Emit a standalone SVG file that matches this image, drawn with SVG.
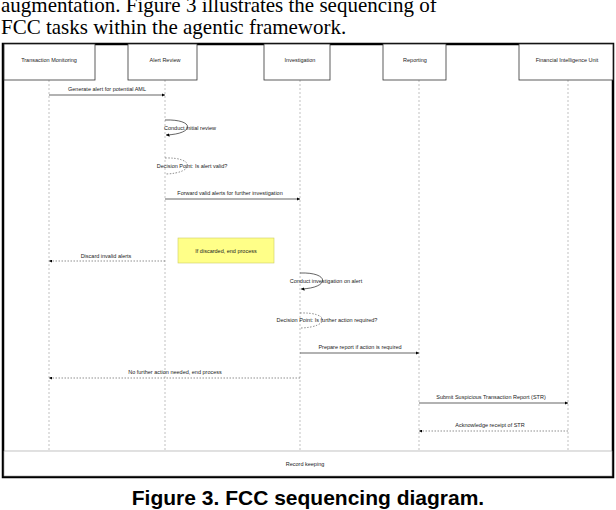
<svg xmlns="http://www.w3.org/2000/svg" width="616" height="510" viewBox="0 0 616 510">
<defs>
<marker id="ah" viewBox="0 0 10 10" refX="10" refY="5" markerWidth="5" markerHeight="5" orient="auto"><path d="M0,0L10,5L0,10z" fill="#000"/></marker>
<style>
.t{font-family:"Liberation Sans",Arial,sans-serif;font-size:5.5px;fill:#222;text-anchor:middle}
.hd{fill:#fff;stroke:#333;stroke-width:0.8}
.ll{stroke:#999;stroke-width:0.6;stroke-dasharray:2,2}
.m{stroke:#222;stroke-width:0.7;fill:none}
.d{stroke:#444;stroke-width:0.6;fill:none;stroke-dasharray:1.5,1.5}
</style>
</defs>
<rect width="616" height="510" fill="#fff"/>
<text x="1" y="12" font-family="Liberation Serif,serif" font-size="21" fill="#000">augmentation. Figure 3 illustrates the sequencing of</text>
<text x="1" y="34" font-family="Liberation Serif,serif" font-size="21" fill="#000">FCC tasks within the agentic framework.</text>
<rect x="3" y="44" width="610" height="433" fill="#fff" stroke="#000" stroke-width="2.5"/>
<g id="lifelines">
<line class="ll" x1="49" y1="80" x2="49" y2="451"/>
<line class="ll" x1="165" y1="80" x2="165" y2="451"/>
<line class="ll" x1="300" y1="80" x2="300" y2="451"/>
<line class="ll" x1="419" y1="80" x2="419" y2="451"/>
<line class="ll" x1="568" y1="80" x2="568" y2="451"/>
</g>
<g id="n-tm"><rect class="hd" x="4" y="44" width="91" height="36"/><text class="t" x="49" y="62">Transaction Monitoring</text></g>
<g id="n-ar"><rect class="hd" x="128" y="44" width="69" height="36"/><text class="t" x="165" y="62">Alert Review</text></g>
<g id="n-inv"><rect class="hd" x="264" y="44" width="66" height="36"/><text class="t" x="300" y="62">Investigation</text></g>
<g id="n-rep"><rect class="hd" x="383" y="44" width="63" height="36"/><text class="t" x="415" y="62">Reporting</text></g>
<g id="n-fiu"><rect class="hd" x="519" y="44" width="94" height="36"/><text class="t" x="567" y="62">Financial Intelligence Unit</text></g>
<g id="note"><rect x="178" y="238" width="96" height="25" fill="#ffff88" stroke="#cccc66" stroke-width="0.6"/><text class="t" x="226" y="253">If discarded, end process</text></g>
<g id="n-rk"><rect x="4" y="451" width="608" height="25" fill="#fff" stroke="#999" stroke-width="0.6"/><text class="t" x="305" y="466">Record keeping</text></g>
<g id="connectors">
<line class="m" x1="49" y1="95" x2="165" y2="95" marker-end="url(#ah)"/>
<text class="t" x="107" y="91">Generate alert for potential AML</text>
<path class="m" d="M165,120 C195,119 195,134 166,135" marker-end="url(#ah)"/>
<text class="t" x="190" y="130">Conduct initial review</text>
<path class="d" d="M165,158 C195,157 195,173 166,174"/>
<text class="t" x="192" y="168">Decision Point: Is alert valid?</text>
<line class="m" x1="165" y1="199" x2="300" y2="199" marker-end="url(#ah)"/>
<text class="t" x="230" y="195">Forward valid alerts for further investigation</text>
<line class="d" x1="165" y1="261" x2="49" y2="261" marker-end="url(#ah)"/>
<text class="t" x="106" y="258">Discard invalid alerts</text>
<path class="m" d="M300,273 C330,272 330,288 301,289" marker-end="url(#ah)"/>
<text class="t" x="326" y="283">Conduct investigation on alert</text>
<path class="d" d="M300,313 C330,312 330,327 301,328"/>
<text class="t" x="327" y="322">Decision Point: Is further action required?</text>
<line class="m" x1="300" y1="353" x2="419" y2="353" marker-end="url(#ah)"/>
<text class="t" x="360" y="349">Prepare report if action is required</text>
<line class="d" x1="300" y1="378" x2="49" y2="378" marker-end="url(#ah)"/>
<text class="t" x="175" y="374">No further action needed, end process</text>
<line class="m" x1="419" y1="403" x2="568" y2="403" marker-end="url(#ah)"/>
<text class="t" x="491" y="399">Submit Suspicious Transaction Report (STR)</text>
<line class="d" x1="568" y1="431" x2="419" y2="431" marker-end="url(#ah)"/>
<text class="t" x="490" y="427">Acknowledge receipt of STR</text>
</g>
<text x="308" y="505" font-family="Liberation Sans,Arial,sans-serif" font-size="21" font-weight="bold" text-anchor="middle" fill="#000">Figure 3. FCC sequencing diagram.</text>
</svg>
